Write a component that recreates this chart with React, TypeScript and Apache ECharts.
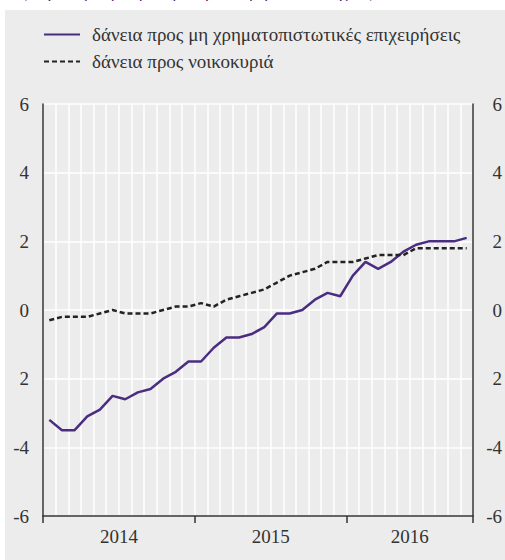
import React, { useEffect, useRef } from "react";
import * as echarts from "echarts";

const months: string[] = [
  "2014-01", "2014-02", "2014-03", "2014-04", "2014-05", "2014-06",
  "2014-07", "2014-08", "2014-09", "2014-10", "2014-11", "2014-12",
  "2015-01", "2015-02", "2015-03", "2015-04", "2015-05", "2015-06",
  "2015-07", "2015-08", "2015-09", "2015-10", "2015-11", "2015-12",
  "2016-01", "2016-02", "2016-03", "2016-04", "2016-05", "2016-06",
  "2016-07", "2016-08", "2016-09", "2016-10",
];

const businessLoans: number[] = [
  -3.2, -3.5, -3.5, -3.1, -2.9, -2.5, -2.6, -2.4, -2.3, -2.0, -1.8, -1.5,
  -1.5, -1.1, -0.8, -0.8, -0.7, -0.5, -0.1, -0.1, 0.0, 0.3, 0.5, 0.4,
  1.0, 1.4, 1.2, 1.4, 1.7, 1.9, 2.0, 2.0, 2.0, 2.1,
];

const householdLoans: number[] = [
  -0.3, -0.2, -0.2, -0.2, -0.1, 0.0, -0.1, -0.1, -0.1, 0.0, 0.1, 0.1,
  0.2, 0.1, 0.3, 0.4, 0.5, 0.6, 0.8, 1.0, 1.1, 1.2, 1.4, 1.4,
  1.4, 1.5, 1.6, 1.6, 1.6, 1.8, 1.8, 1.8, 1.8, 1.8,
];

const seriesNames: string[] = [
  "δάνεια προς μη χρηματοπιστωτικές επιχειρήσεις",
  "δάνεια προς νοικοκυριά",
];

const yearLabels: string[] = ["2014", "2015", "2016"];
const yearLabelPositions: number[] = [6, 18, 29];
const yearBoundaries: number[] = [0, 12, 24, 34];

const yMin = -6;
const yMax = 6;
const yInterval = 2;

const subtitle = "(ετήσιοι ρυθμοί μεταβολής, %, μηνιαία στοιχεία)";

const FONT = "Liberation Serif";
const TEXT = "#333333";
const PURPLE = "#4b2d80";
const FS = 19;

function yLabel(v: number): string {
  // the reference prints the -2 tick without its minus sign
  if (v === -2) return "2";
  return String(v);
}

export default function App() {
  const ref = useRef<HTMLDivElement>(null);

  useEffect(() => {
    if (!ref.current) return;
    const chart = echarts.init(ref.current, undefined, { renderer: "svg" });
    chart.setOption({
      animation: false,
      backgroundColor: "#ffffff",
      textStyle: { fontFamily: FONT },
      graphic: [
        {
          type: "rect",
          z: -10,
          silent: true,
          shape: { x: 5, y: 10, width: 500, height: 550 },
          style: { fill: "#ececec" },
        },
        {
          type: "text",
          x: 21,
          y: 0,
          silent: true,
          style: {
            text: subtitle,
            fontFamily: FONT,
            fontSize: 18,
            fill: PURPLE,
            textVerticalAlign: "bottom",
          },
        },
      ],
      legend: {
        orient: "vertical",
        left: 43,
        top: 25,
        padding: 0,
        itemWidth: 36,
        itemHeight: 14,
        itemGap: 8,
        data: seriesNames,
        itemStyle: { opacity: 0 },
        textStyle: {
          fontFamily: FONT,
          fontSize: FS,
          lineHeight: 19,
          color: TEXT,
          padding: [0, 0, 0, 7],
        },
      },
      grid: { left: 43, right: 31, top: 104, bottom: 44, containLabel: false },
      xAxis: [
        {
          type: "category",
          data: months,
          boundaryGap: true,
          axisLine: { show: false },
          axisTick: { show: false },
          axisLabel: { show: false },
          splitLine: {
            show: true,
            interval: 0,
            lineStyle: { color: "#ffffff", width: 1.5 },
          },
        },
        {
          type: "value",
          min: 0,
          max: months.length,
          position: "bottom",
          axisLine: {
            show: true,
            onZero: false,
            lineStyle: { color: TEXT, width: 1.5 },
          },
          axisTick: {
            show: true,
            customValues: yearBoundaries,
            length: 7,
            lineStyle: { color: TEXT, width: 1.5 },
          },
          axisLabel: {
            show: true,
            customValues: yearLabelPositions,
            formatter: (v: number) => {
              const i = yearLabelPositions.indexOf(v);
              return i >= 0 ? yearLabels[i] : "";
            },
            fontFamily: FONT,
            fontSize: FS,
            color: TEXT,
            margin: 11,
          },
          splitLine: { show: false },
        },
      ],
      yAxis: [
        {
          type: "value",
          position: "left",
          min: yMin,
          max: yMax,
          interval: yInterval,
          axisLine: { show: true, lineStyle: { color: TEXT, width: 1.5 } },
          axisTick: { show: false },
          axisLabel: {
            formatter: yLabel,
            fontFamily: FONT,
            fontSize: FS,
            color: TEXT,
            margin: 14,
          },
          splitLine: { show: true, lineStyle: { color: "#ffffff", width: 1.5 } },
        },
        {
          type: "value",
          position: "right",
          min: yMin,
          max: yMax,
          interval: yInterval,
          axisLine: { show: true, lineStyle: { color: TEXT, width: 1.5 } },
          axisTick: { show: false },
          axisLabel: {
            formatter: yLabel,
            fontFamily: FONT,
            fontSize: FS,
            color: TEXT,
            align: "right",
            margin: 29,
          },
          splitLine: { show: false },
        },
      ],
      series: [
        {
          name: seriesNames[0],
          type: "line",
          xAxisIndex: 0,
          yAxisIndex: 0,
          data: businessLoans,
          symbol: "none",
          color: PURPLE,
          lineStyle: { color: PURPLE, width: 2.5 },
        },
        {
          name: seriesNames[1],
          type: "line",
          xAxisIndex: 0,
          yAxisIndex: 0,
          data: householdLoans,
          symbol: "none",
          color: "#222222",
          lineStyle: { color: "#222222", width: 2.5, type: [5, 3] },
        },
      ],
    });
    return () => chart.dispose();
  }, []);

  return (
    <div
      ref={ref}
      style={{ position: "absolute", left: 0, top: 0, width: 505, height: 560 }}
    />
  );
}
